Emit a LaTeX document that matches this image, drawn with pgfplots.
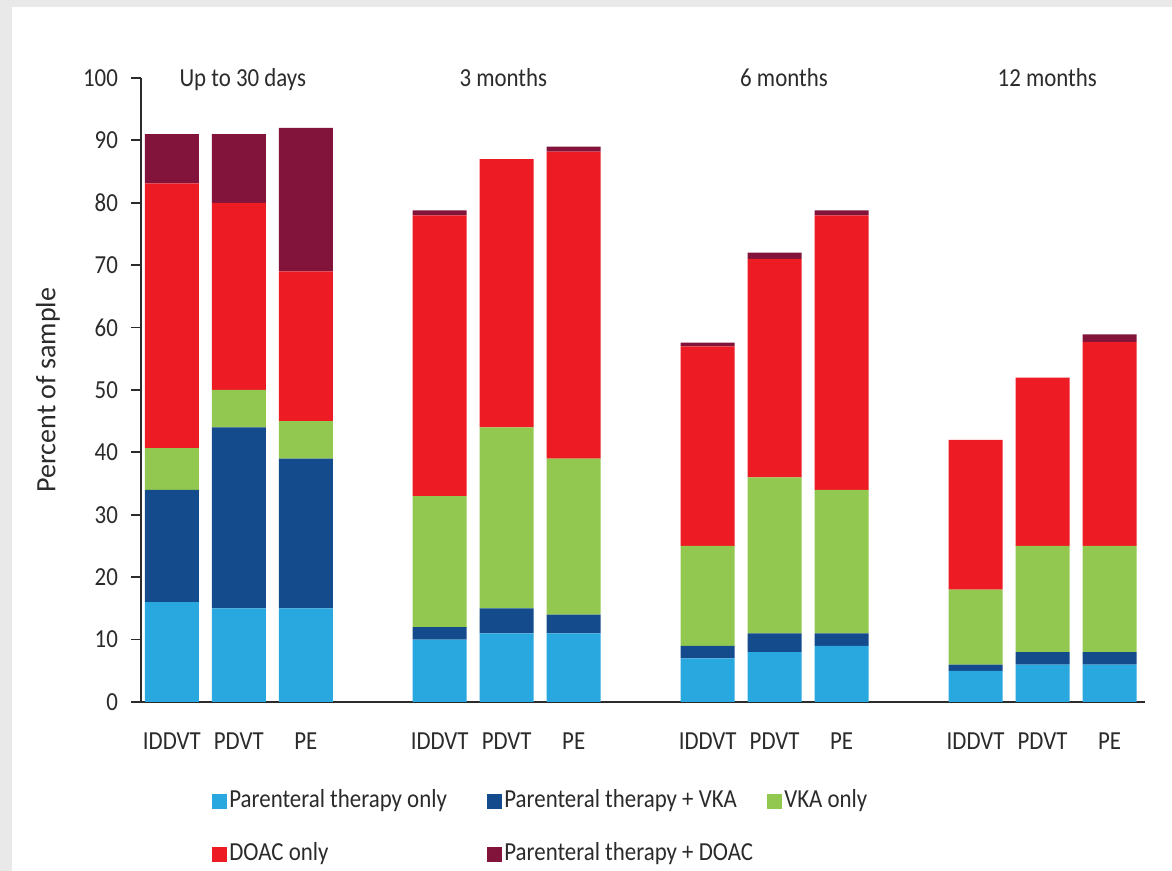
\documentclass[border=0pt]{standalone}
\usepackage{fontspec}
\setmainfont[FakeStretch=0.88]{Carlito}
\newfontfamily\widefont{Carlito}
\usepackage{pgfplots}
\pgfplotsset{compat=1.18}
\usepackage{pgfplotstable}

\definecolor{ptonly}{HTML}{29A8E0}
\definecolor{ptvka}{HTML}{134B8C}
\definecolor{vkaonly}{HTML}{92C850}
\definecolor{doaconly}{HTML}{ED1C24}
\definecolor{ptdoac}{HTML}{82143C}
\definecolor{framegray}{HTML}{E9E9E9}
\definecolor{inkgray}{HTML}{2B2B2B}

% Percent of sample per treatment pattern; x = bar slot (gaps between time windows)
\pgfplotstableread{
x   pt   ptvka  vka  doac  ptdoac
0   16   18     6.7  42.4  7.9
1   15   29     6    30    11
2   15   24     6    24    23
4   10   2      21   45    0.8
5   11   4      29   43    0
6   11   3      25   49.2  0.8
8   7    2      16   32    0.6
9   8    3      25   35    1
10  9    2      23   44    0.8
12  5    1      12   24    0
13  6    2      17   27    0
14  6    2      17   32.7  1.2
}\treatment

\begin{document}
\fontsize{13pt}{15pt}\selectfont
\begin{tikzpicture}
\useasboundingbox (-70.5pt,-84.5pt) rectangle (515.5pt,351pt);
\fill[framegray] (-70.5pt,-84.5pt) rectangle (515.5pt,351pt);
\fill[white] (-64.5pt,-84.5pt) rectangle (515.5pt,347.5pt);
\begin{axis}[
  at={(0pt,0pt)}, anchor=south west,
  scale only axis, width=502pt, height=312pt,
  ybar stacked, bar width=27pt,
  xmin=-0.46, xmax=14.53, ymin=0, ymax=100,
  axis x line=bottom, axis y line=left,
  axis line style={inkgray, line width=1pt, -},
  xtick={0,1,2,4,5,6,8,9,10,12,13,14},
  xticklabels={IDDVT,PDVT,PE,IDDVT,PDVT,PE,IDDVT,PDVT,PE,IDDVT,PDVT,PE},
  x tick style={draw=none},
  ytick={0,10,...,100},
  y tick style={inkgray, line width=0.9pt},
  tick align=outside, major tick length=5pt,
  /pgf/number format/assume math mode=true,
  yticklabel style={text=inkgray, xshift=-2pt},
  xticklabel style={text=inkgray, yshift=-6pt},
  ylabel={Percent of sample},
  ylabel style={at={(axis description cs:-0.0926,0.5)}, anchor=center,
    text=inkgray, font=\widefont\fontsize{14pt}{16pt}\selectfont},
  clip=false,
  legend columns=3,
  legend cell align=left,
  legend style={at={(axis description cs:0.0707,-0.2027)}, anchor=west,
    draw=none, fill=none, inner sep=0pt, column sep=0pt, row sep=14.5pt,
    nodes={inner xsep=1pt, inner ysep=0pt, text height=9pt, text depth=3pt, text=inkgray}},
]
\addplot[draw=none, fill=ptonly,
  legend image code/.code={\fill[ptonly] (0pt,-3.75pt) rectangle (7.5pt,3.75pt);}]
  table[x=x, y=pt] {\treatment};
\addlegendentry{\makebox[128pt][l]{Parenteral therapy only}}
\addplot[draw=none, fill=ptvka,
  legend image code/.code={\fill[ptvka] (0pt,-3.75pt) rectangle (7.5pt,3.75pt);}]
  table[x=x, y=ptvka] {\treatment};
\addlegendentry{\makebox[130.5pt][l]{Parenteral therapy + VKA}}
\addplot[draw=none, fill=vkaonly,
  legend image code/.code={\fill[vkaonly] (0pt,-3.75pt) rectangle (7.5pt,3.75pt);}]
  table[x=x, y=vka] {\treatment};
\addlegendentry{VKA only}
\addplot[draw=none, fill=doaconly,
  legend image code/.code={\fill[doaconly] (0pt,-3.75pt) rectangle (7.5pt,3.75pt);}]
  table[x=x, y=doac] {\treatment};
\addlegendentry{\makebox[128pt][l]{DOAC only}}
\addplot[draw=none, fill=ptdoac,
  legend image code/.code={\fill[ptdoac] (0pt,-3.75pt) rectangle (7.5pt,3.75pt);}]
  table[x=x, y=ptdoac] {\treatment};
\addlegendentry{\makebox[130.5pt][l]{Parenteral therapy + DOAC}}

% time-window headings above each group of bars
\node[anchor=base, text=inkgray] at (axis cs:1.06,98.67) {Up to 30 days};
\node[anchor=base, text=inkgray] at (axis cs:4.95,98.67) {3 months};
\node[anchor=base, text=inkgray] at (axis cs:9.14,98.67) {6 months};
\node[anchor=base, text=inkgray] at (axis cs:13.07,98.67) {12 months};
\end{axis}
\end{tikzpicture}
\end{document}
